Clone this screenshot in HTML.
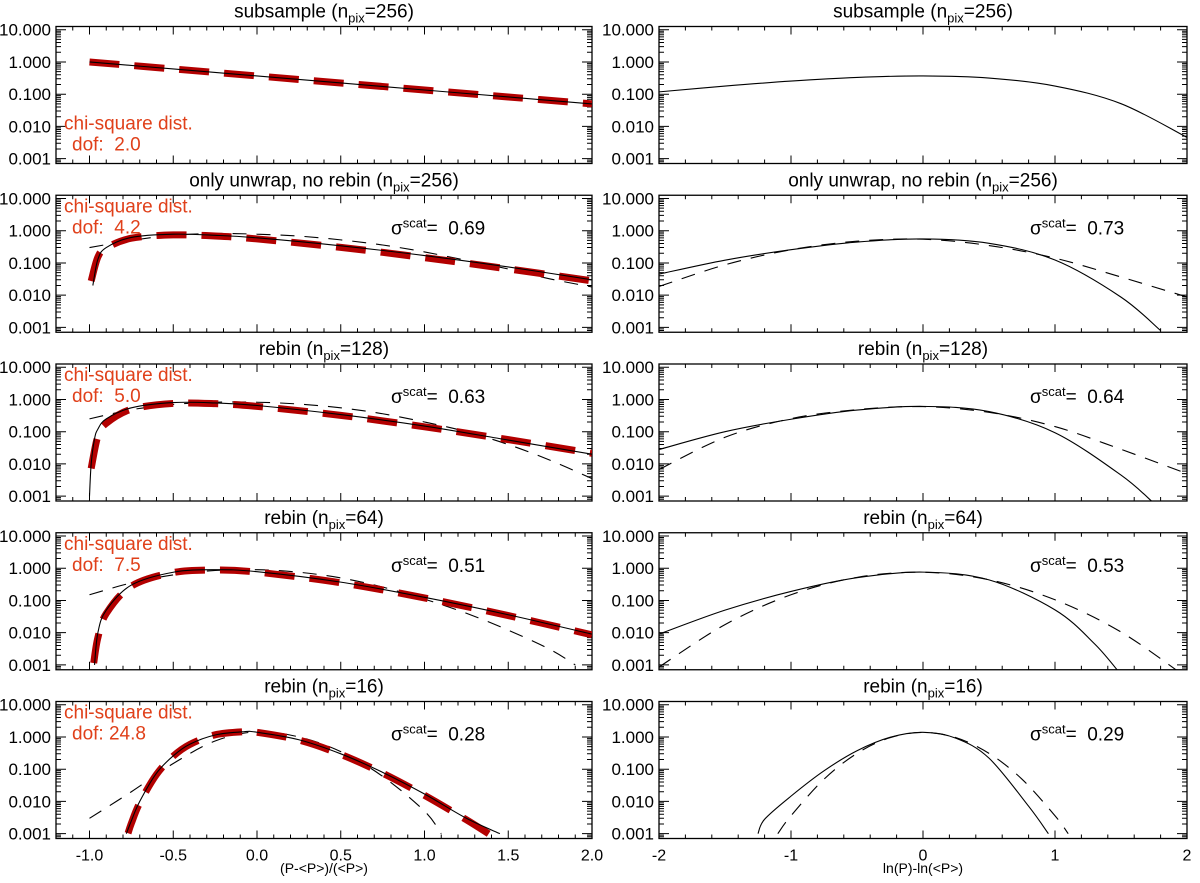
<!DOCTYPE html>
<html><head><meta charset="utf-8"><style>
html,body{margin:0;padding:0;background:#fff;}
svg{display:block;font-family:"Liberation Sans",sans-serif;}
svg text{white-space:pre;}
</style></head><body>
<svg id="fig" width="1200" height="883" viewBox="0 0 1200 883"></svg>
<script>
// ---- data ----
const titles = ["subsample", "only unwrap, no rebin", "rebin", "rebin", "rebin"];
const npix = ["256", "256", "128", "64", "16"];
const dofLabels = ["2.0", "4.2", "5.0", "7.5", "24.8"];
const sigmaLeft = [null, "0.69", "0.63", "0.51", "0.28"];
const sigmaRight = [null, "0.73", "0.64", "0.53", "0.29"];
const yTickVals = [10, 1, 0.1, 0.01, 0.001];
const yTickLabels = ["10.000", "1.000", "0.100", "0.010", "0.001"];
const leftXTicks = [-1.0, -0.5, 0.0, 0.5, 1.0, 1.5, 2.0];
const leftXTickLabels = ["-1.0", "-0.5", "0.0", "0.5", "1.0", "1.5", "2.0"];
const rightXTicks = [-2, -1, 0, 1, 2];
const rightXTickLabels = ["-2", "-1", "0", "1", "2"];

// left column, red chi-square model
const redX1 = [-1, -0.5, 0, 0.5, 1, 1.5, 2];
const redY1 = [1, 0.607, 0.368, 0.223, 0.135, 0.082, 0.050];
const redX2 = [-0.99, -0.95, -0.9, -0.75, -0.5, -0.25, 0, 0.5, 1, 1.5, 2];
const redY2 = [0.0275, 0.152, 0.292, 0.585, 0.741, 0.685, 0.556, 0.304, 0.146, 0.0653, 0.0279];
const redX3 = [-0.99, -0.95, -0.9, -0.75, -0.5, -0.25, 0, 0.5, 1, 1.5, 2];
const redY3 = [0.00725, 0.0734, 0.183, 0.497, 0.753, 0.741, 0.610, 0.321, 0.1417, 0.0567, 0.0214];
const redX4 = [-0.975, -0.95, -0.9, -0.75, -0.5, -0.25, 0, 0.5, 1, 1.5, 2];
const redY4 = [0.00114, 0.00703, 0.0393, 0.278, 0.733, 0.876, 0.756, 0.353, 0.1196, 0.0339, 0.00856];
const redX5 = [-0.77, -0.75, -0.7, -0.6, -0.5, -0.4, -0.25, -0.08, 0, 0.25, 0.5, 0.75, 1.0, 1.25, 1.4];
const redY5 = [0.00103, 0.0021, 0.009, 0.0686, 0.254, 0.589, 1.165, 1.45, 1.395, 0.80, 0.288, 0.0753, 0.0155, 0.0027, 0.00087];

// left column, measured (solid)
const solX1 = [-1, -0.5, 0, 0.5, 1, 1.5, 2];
const solY1 = [1, 0.607, 0.368, 0.223, 0.135, 0.082, 0.050];
const solX2 = [-0.98, -0.95, -0.9, -0.75, -0.5, -0.25, 0, 0.5, 1, 1.5, 2];
const solY2 = [0.02, 0.13, 0.3, 0.62, 0.78, 0.72, 0.6, 0.34, 0.17, 0.075, 0.03];
const solX3 = [-1.0, -0.99, -0.97, -0.95, -0.9, -0.75, -0.5, -0.25, 0, 0.5, 1, 1.5, 2];
const solY3 = [0.001, 0.01, 0.06, 0.12, 0.25, 0.55, 0.8, 0.78, 0.65, 0.34, 0.15, 0.055, 0.02];
const solX4 = [-0.97, -0.95, -0.9, -0.75, -0.5, -0.25, 0, 0.5, 1, 1.5, 2];
const solY4 = [0.001, 0.01, 0.05, 0.3, 0.75, 0.9, 0.78, 0.37, 0.125, 0.036, 0.009];
const solX5 = [-0.78, -0.75, -0.7, -0.6, -0.5, -0.4, -0.25, -0.08, 0, 0.25, 0.5, 0.75, 1, 1.25, 1.45];
const solY5 = [0.001, 0.0025, 0.01, 0.075, 0.26, 0.6, 1.15, 1.45, 1.4, 0.82, 0.3, 0.08, 0.017, 0.003, 0.001];

// left column, lognormal (thin dashed)
const dasX2 = [-1.0, -0.75, -0.5, -0.25, 0, 0.25, 0.5, 0.75, 1.0, 1.25, 1.5, 1.75, 2.0];
const dasY2 = [0.3, 0.5, 0.72, 0.82, 0.78, 0.68, 0.52, 0.36, 0.22, 0.12, 0.065, 0.032, 0.018];
const dasX3 = [-1.0, -0.75, -0.5, -0.25, 0, 0.25, 0.5, 0.75, 1.0, 1.25, 1.5, 1.75, 2.0];
const dasY3 = [0.25, 0.48, 0.7, 0.82, 0.82, 0.72, 0.55, 0.36, 0.2, 0.1, 0.04, 0.013, 0.0035];
const dasX4 = [-1.0, -0.75, -0.5, -0.25, 0, 0.25, 0.5, 0.75, 1.0, 1.25, 1.5, 1.75, 1.9];
const dasY4 = [0.15, 0.35, 0.62, 0.85, 0.9, 0.75, 0.5, 0.26, 0.11, 0.04, 0.012, 0.003, 0.001];
const dasX5 = [-1.0, -0.75, -0.5, -0.25, 0, 0.25, 0.5, 0.75, 1.0, 1.1];
const dasY5 = [0.003, 0.02, 0.15, 0.75, 1.45, 1.0, 0.35, 0.06, 0.005, 0.001];

// right column, measured (solid)
const rSolX1 = [-2, -1.5, -1, -0.5, 0, 0.5, 1, 1.5, 2];
const rSolY1 = [0.118, 0.1785, 0.255, 0.331, 0.368, 0.317, 0.179, 0.0508, 0.00457];
const rSolX2 = [-2, -1.5, -1, -0.5, 0, 0.5, 1, 1.5, 1.8];
const rSolY2 = [0.045, 0.122, 0.257, 0.445, 0.556, 0.407, 0.123, 0.0087, 0.0008];
const rSolX3 = [-2, -1.5, -1, -0.5, 0, 0.5, 1, 1.5, 1.75];
const rSolY3 = [0.028, 0.1, 0.243, 0.468, 0.61, 0.421, 0.093, 0.0045, 0.0006];
const rSolX4 = [-2, -1.5, -1, -0.5, 0, 0.5, 1, 1.3, 1.5];
const rSolY4 = [0.009, 0.05, 0.19, 0.507, 0.756, 0.434, 0.051, 0.0045, 0.0005];
const rSolX5 = [-1.25, -1.2, -1, -0.75, -0.5, -0.25, 0, 0.25, 0.5, 0.8, 0.95];
const rSolY5 = [0.001, 0.0028, 0.0146, 0.089, 0.373, 0.976, 1.395, 0.914, 0.22, 0.0071, 0.001];

// right column, gaussian (thin dashed)
const rDasX2 = [-2, -1.5, -1, -0.5, 0, 0.5, 1, 1.5, 2];
const rDasY2 = [0.0186, 0.0874, 0.257, 0.473, 0.545, 0.347, 0.141, 0.0366, 0.0088];
const rDasX3 = [-2, -1.5, -1, -0.5, 0, 0.5, 1, 1.5, 2];
const rDasY3 = [0.0067, 0.067, 0.254, 0.484, 0.6, 0.398, 0.144, 0.0284, 0.005];
const rDasX4 = [-2, -1.5, -1, -0.5, 0, 0.5, 1, 1.5, 2];
const rDasY4 = [0.00086, 0.0178, 0.15, 0.52, 0.75, 0.438, 0.105, 0.0105, 0.0004];
const rDasX5 = [-1.1, -1, -0.75, -0.5, -0.25, 0, 0.25, 0.5, 0.75, 1, 1.1];
const rDasY5 = [0.001, 0.0036, 0.049, 0.31, 0.95, 1.38, 0.95, 0.31, 0.049, 0.0036, 0.001];

const leftSeries = [
  {red:[redX1,redY1], sol:[solX1,solY1], das:null},
  {red:[redX2,redY2], sol:[solX2,solY2], das:[dasX2,dasY2]},
  {red:[redX3,redY3], sol:[solX3,solY3], das:[dasX3,dasY3]},
  {red:[redX4,redY4], sol:[solX4,solY4], das:[dasX4,dasY4]},
  {red:[redX5,redY5], sol:[solX5,solY5], das:[dasX5,dasY5]}
];
const rightSeries = [
  {sol:[rSolX1,rSolY1], das:null},
  {sol:[rSolX2,rSolY2], das:[rDasX2,rDasY2]},
  {sol:[rSolX3,rSolY3], das:[rDasX3,rDasY3]},
  {sol:[rSolX4,rSolY4], das:[rDasX4,rDasY4]},
  {sol:[rSolX5,rSolY5], das:[rDasX5,rDasY5]}
];

// ---- drawing ----
const NS = "http://www.w3.org/2000/svg";
const svg = document.getElementById("fig");
function mk(tag, attrs, parent, text){
  const e = document.createElementNS(NS, tag);
  for (const k in attrs) e.setAttribute(k, attrs[k]);
  if (text !== undefined) e.textContent = text;
  (parent||svg).appendChild(e);
  return e;
}
const PH = 137, TOP0 = 26.5, STEP = 168.75;
const LOGTOP = 1.1, LOGBOT = -3.15;
const cols = [
  {x0:56, x1:592, xmin:-1.2, xmax:2.0, ticks:leftXTicks, labels:leftXTickLabels, minor:0.1, side:"left"},
  {x0:659, x1:1187, xmin:-2, xmax:2, ticks:rightXTicks, labels:rightXTickLabels, minor:0.2, side:"right"}
];
function sx(c, v){ return c.x0 + (v - c.xmin) / (c.xmax - c.xmin) * (c.x1 - c.x0); }
function sy(top, v){ return top + (LOGTOP - Math.log10(v)) / (LOGTOP - LOGBOT) * PH; }
function pathFrom(c, top, xs, ys){
  const p = xs.map((x,i)=>[sx(c,x), sy(top, ys[i])]);
  let d = "M" + p[0][0].toFixed(2) + "," + p[0][1].toFixed(2);
  for (let i=0;i<p.length-1;i++){
    const p0=p[Math.max(0,i-1)], p1=p[i], p2=p[i+1], p3=p[Math.min(p.length-1,i+2)];
    const t=1/6;
    const c1=[p1[0]+(p2[0]-p0[0])*t, p1[1]+(p2[1]-p0[1])*t];
    const c2=[p2[0]-(p3[0]-p1[0])*t, p2[1]-(p3[1]-p1[1])*t];
    d += " C"+c1[0].toFixed(2)+","+c1[1].toFixed(2)+" "+c2[0].toFixed(2)+","+c2[1].toFixed(2)+" "+p2[0].toFixed(2)+","+p2[1].toFixed(2);
  }
  return d;
}

for (let r=0;r<5;r++){
  const top = TOP0 + r*STEP, bot = top + PH;
  cols.forEach((c, ci)=>{
    const g = mk("g", {}, svg);
    
    
    const cid = "clip"+r+"_"+ci;
    const cp = mk("clipPath", {id:cid}, g);
    mk("rect", {x:c.x0, y:top, width:c.x1-c.x0, height:PH}, cp);
    const t = mk("text", {x:(c.x0+c.x1)/2, y:top-9, "text-anchor":"middle", "font-size":"19"}, g);
    
    
    t.appendChild(document.createTextNode(titles[r] + " (n"));
    mk("tspan", {"font-size":"13", dy:"5"}, t, "pix");
    mk("tspan", {dy:"-5"}, t, "=" + npix[r] + ")");
    const fr = mk("rect", {x:c.x0, y:top, width:c.x1-c.x0, height:PH, fill:"none", stroke:"#000", "stroke-width":"1.3"}, g);
    
    
    let td = "";
    for (let e=-4;e<=1;e++){
      for (let m=1;m<10;m++){
        const v = m*Math.pow(10,e);
        const lv = Math.log10(v);
        if (lv > LOGTOP || lv < LOGBOT) continue;
        const y = sy(top, v);
        const L = m===1 ? 10 : 5;
        td += "M"+c.x0+","+y.toFixed(2)+"h"+L+"M"+c.x1+","+y.toFixed(2)+"h"+(-L);
      }
    }
    const nmin = Math.round((c.xmax-c.xmin)/c.minor);
    for (let k=0;k<=nmin;k++){
      const v = c.xmin + k*c.minor;
      const major = c.ticks.some(tv=>Math.abs(tv-v)<1e-6);
      const L = major ? 8 : 4;
      const x = sx(c, v).toFixed(2);
      td += "M"+x+","+bot+"v"+(-L)+"M"+x+","+top+"v"+L;
    }
    const tk = mk("path", {d:td, stroke:"#000", "stroke-width":"1", fill:"none"}, g);
    
    
    yTickVals.forEach((v,i)=>{
      const yl = mk("text", {x:c.x0-5, y:sy(top,v)+6, "text-anchor":"end", "font-size":"17"}, g, yTickLabels[i]);
      
      
    });
    if (r===4){
      c.ticks.forEach((v,i)=>{
        const xl = mk("text", {x:sx(c,v), y:bot+22, "text-anchor":"middle", "font-size":"16"}, g, c.labels[i]);
        
        
      });
    }
    const cg = mk("g", {"clip-path":"url(#"+cid+")"}, g);
    const S = ci===0 ? leftSeries[r] : rightSeries[r];
    if (S.das){
      const pd = mk("path", {d:pathFrom(c, top, S.das[0], S.das[1]), fill:"none", stroke:"#000", "stroke-width":"1.1", "stroke-dasharray":"14,10"}, cg);
      
      
    }
    if (ci===0){
      const pr = mk("path", {d:pathFrom(c, top, S.red[0], S.red[1]), fill:"none", stroke:"#b30000", "stroke-width":"7", "stroke-dasharray":"30,15"}, cg);
      
      
    }
    const ps = mk("path", {d:pathFrom(c, top, S.sol[0], S.sol[1]), fill:"none", stroke:"#000", "stroke-width":"1.1"}, cg);
    
    
    if (ci===0){
      const ly = r===0 ? top+103 : top+17;
      const a1 = mk("text", {x:64, y:ly, "font-size":"19", fill:"#e0401a"}, g, "chi-square dist.");
      
      
      const a2 = mk("text", {x:72, y:ly+21, "font-size":"19", fill:"#e0401a"}, g, "dof: " + (dofLabels[r].length<4?" ":"") + dofLabels[r]);
      
      
    }
    const sg = ci===0 ? sigmaLeft[r] : sigmaRight[r];
    if (sg){
      const sxp = ci===0 ? 391 : 1030;
      const st = mk("text", {x:sxp, y:top+39, "font-size":"19"}, g);
      
      
      st.appendChild(document.createTextNode("σ"));
      mk("tspan", {"font-size":"13", dy:"-7"}, st, "scat");
      mk("tspan", {dy:"7"}, st, "=  " + sg);
    }
  });
}
const xt1 = mk("text", {x:324, y:873, "text-anchor":"middle", "font-size":"14"}, svg, "(P-<P>)/(<P>)");


const xt2 = mk("text", {x:923, y:873, "text-anchor":"middle", "font-size":"14"}, svg, "ln(P)-ln(<P>)");


</script>
</body></html>
